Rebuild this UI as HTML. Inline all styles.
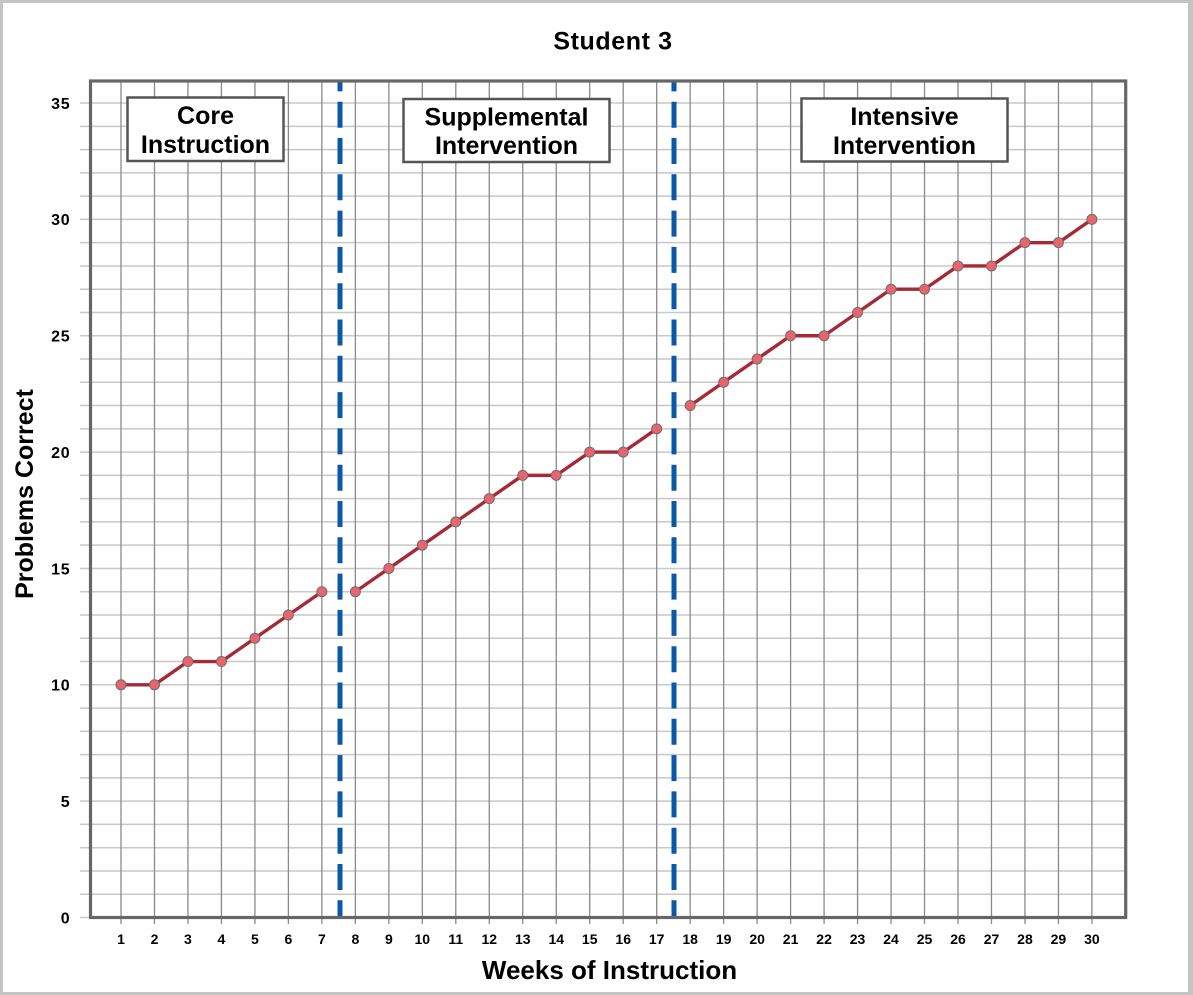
<!DOCTYPE html>
<html>
<head>
<meta charset="utf-8">
<style>
  html,body{margin:0;padding:0;background:#fff;}
  svg{display:block;}
  text{font-family:"Liberation Sans",Arial,sans-serif;font-weight:bold;fill:#000;}
</style>
</head>
<body>
<svg width="1193" height="995" viewBox="0 0 1193 995" xmlns="http://www.w3.org/2000/svg">
  <rect x="0" y="0" width="1193" height="995" fill="#c4c4c4"/>
  <rect x="3" y="3" width="1185" height="989" fill="#ffffff"/>

  <!-- horizontal gridlines (with left ticks) -->
  <g stroke="#c8c8c8" stroke-width="1.5">
    <line x1="80" x2="1125" y1="894.23" y2="894.23"/>
    <line x1="80" x2="1125" y1="870.96" y2="870.96"/>
    <line x1="80" x2="1125" y1="847.69" y2="847.69"/>
    <line x1="80" x2="1125" y1="824.42" y2="824.42"/>
    <line x1="80" x2="1125" y1="801.15" y2="801.15"/>
    <line x1="80" x2="1125" y1="777.88" y2="777.88"/>
    <line x1="80" x2="1125" y1="754.61" y2="754.61"/>
    <line x1="80" x2="1125" y1="731.34" y2="731.34"/>
    <line x1="80" x2="1125" y1="708.07" y2="708.07"/>
    <line x1="80" x2="1125" y1="684.8" y2="684.8"/>
    <line x1="80" x2="1125" y1="661.53" y2="661.53"/>
    <line x1="80" x2="1125" y1="638.26" y2="638.26"/>
    <line x1="80" x2="1125" y1="614.99" y2="614.99"/>
    <line x1="80" x2="1125" y1="591.72" y2="591.72"/>
    <line x1="80" x2="1125" y1="568.45" y2="568.45"/>
    <line x1="80" x2="1125" y1="545.18" y2="545.18"/>
    <line x1="80" x2="1125" y1="521.91" y2="521.91"/>
    <line x1="80" x2="1125" y1="498.64" y2="498.64"/>
    <line x1="80" x2="1125" y1="475.37" y2="475.37"/>
    <line x1="80" x2="1125" y1="452.1" y2="452.1"/>
    <line x1="80" x2="1125" y1="428.83" y2="428.83"/>
    <line x1="80" x2="1125" y1="405.56" y2="405.56"/>
    <line x1="80" x2="1125" y1="382.29" y2="382.29"/>
    <line x1="80" x2="1125" y1="359.02" y2="359.02"/>
    <line x1="80" x2="1125" y1="335.75" y2="335.75"/>
    <line x1="80" x2="1125" y1="312.48" y2="312.48"/>
    <line x1="80" x2="1125" y1="289.21" y2="289.21"/>
    <line x1="80" x2="1125" y1="265.94" y2="265.94"/>
    <line x1="80" x2="1125" y1="242.67" y2="242.67"/>
    <line x1="80" x2="1125" y1="219.4" y2="219.4"/>
    <line x1="80" x2="1125" y1="196.13" y2="196.13"/>
    <line x1="80" x2="1125" y1="172.86" y2="172.86"/>
    <line x1="80" x2="1125" y1="149.59" y2="149.59"/>
    <line x1="80" x2="1125" y1="126.32" y2="126.32"/>
    <line x1="80" x2="1125" y1="103.05" y2="103.05"/>
    <line x1="80" x2="90" y1="917.5" y2="917.5"/>
  </g>

  <!-- vertical gridlines (with bottom ticks) -->
  <g stroke="#8a8a8a" stroke-width="1.3">
    <line y1="81" y2="924" x1="121" x2="121"/>
    <line y1="81" y2="924" x1="154.48" x2="154.48"/>
    <line y1="81" y2="924" x1="187.96" x2="187.96"/>
    <line y1="81" y2="924" x1="221.44" x2="221.44"/>
    <line y1="81" y2="924" x1="254.92" x2="254.92"/>
    <line y1="81" y2="924" x1="288.4" x2="288.4"/>
    <line y1="81" y2="924" x1="321.88" x2="321.88"/>
    <line y1="81" y2="924" x1="355.36" x2="355.36"/>
    <line y1="81" y2="924" x1="388.84" x2="388.84"/>
    <line y1="81" y2="924" x1="422.32" x2="422.32"/>
    <line y1="81" y2="924" x1="455.8" x2="455.8"/>
    <line y1="81" y2="924" x1="489.28" x2="489.28"/>
    <line y1="81" y2="924" x1="522.76" x2="522.76"/>
    <line y1="81" y2="924" x1="556.24" x2="556.24"/>
    <line y1="81" y2="924" x1="589.72" x2="589.72"/>
    <line y1="81" y2="924" x1="623.2" x2="623.2"/>
    <line y1="81" y2="924" x1="656.68" x2="656.68"/>
    <line y1="81" y2="924" x1="690.16" x2="690.16"/>
    <line y1="81" y2="924" x1="723.64" x2="723.64"/>
    <line y1="81" y2="924" x1="757.12" x2="757.12"/>
    <line y1="81" y2="924" x1="790.6" x2="790.6"/>
    <line y1="81" y2="924" x1="824.08" x2="824.08"/>
    <line y1="81" y2="924" x1="857.56" x2="857.56"/>
    <line y1="81" y2="924" x1="891.04" x2="891.04"/>
    <line y1="81" y2="924" x1="924.52" x2="924.52"/>
    <line y1="81" y2="924" x1="958" x2="958"/>
    <line y1="81" y2="924" x1="991.48" x2="991.48"/>
    <line y1="81" y2="924" x1="1024.96" x2="1024.96"/>
    <line y1="81" y2="924" x1="1058.44" x2="1058.44"/>
    <line y1="81" y2="924" x1="1091.92" x2="1091.92"/>
  </g>

  <!-- phase lines -->
  <g stroke="#0b57a8" stroke-width="5" stroke-dasharray="26 10.3" stroke-dashoffset="15.6">
    <line x1="340" x2="340" y1="81" y2="917"/>
    <line x1="674" x2="674" y1="81" y2="917"/>
  </g>

  <!-- axes frame -->
  <rect x="90.5" y="81" width="1035.2" height="836.5" fill="none" stroke="#666666" stroke-width="3.2"/>

  <!-- label boxes -->
  <g fill="#ffffff" stroke="#555555" stroke-width="2.5">
    <rect x="127.5" y="97.5" width="156" height="63.5"/>
    <rect x="403.5" y="99" width="206" height="63"/>
    <rect x="801.5" y="98.5" width="206" height="63"/>
  </g>
  <g font-size="25" text-anchor="middle">
    <text x="205.5" y="124">Core</text>
    <text x="205.5" y="153">Instruction</text>
    <text x="506.5" y="125.5">Supplemental</text>
    <text x="506.5" y="154">Intervention</text>
    <text x="904.5" y="125">Intensive</text>
    <text x="904.5" y="154">Intervention</text>
  </g>

  <!-- data lines -->
  <g fill="none" stroke="#a52a35" stroke-width="3.4" stroke-linejoin="round">
    <polyline points="121,684.8 154.48,684.8 187.96,661.53 221.44,661.53 254.92,638.26 288.4,614.99 321.88,591.72"/>
    <polyline points="355.36,591.72 388.84,568.45 422.32,545.18 455.8,521.91 489.28,498.64 522.76,475.37 556.24,475.37 589.72,452.1 623.2,452.1 656.68,428.83"/>
    <polyline points="690.16,405.56 723.64,382.29 757.12,359.02 790.6,335.75 824.08,335.75 857.56,312.48 891.04,289.21 924.52,289.21 958,265.94 991.48,265.94 1024.96,242.67 1058.44,242.67 1091.92,219.4"/>
  </g>
  <g fill="#ea646d" stroke="#6e6e6e" stroke-width="1">
    <circle cx="121" cy="684.8" r="5"/>
    <circle cx="154.48" cy="684.8" r="5"/>
    <circle cx="187.96" cy="661.53" r="5"/>
    <circle cx="221.44" cy="661.53" r="5"/>
    <circle cx="254.92" cy="638.26" r="5"/>
    <circle cx="288.4" cy="614.99" r="5"/>
    <circle cx="321.88" cy="591.72" r="5"/>
    <circle cx="355.36" cy="591.72" r="5"/>
    <circle cx="388.84" cy="568.45" r="5"/>
    <circle cx="422.32" cy="545.18" r="5"/>
    <circle cx="455.8" cy="521.91" r="5"/>
    <circle cx="489.28" cy="498.64" r="5"/>
    <circle cx="522.76" cy="475.37" r="5"/>
    <circle cx="556.24" cy="475.37" r="5"/>
    <circle cx="589.72" cy="452.1" r="5"/>
    <circle cx="623.2" cy="452.1" r="5"/>
    <circle cx="656.68" cy="428.83" r="5"/>
    <circle cx="690.16" cy="405.56" r="5"/>
    <circle cx="723.64" cy="382.29" r="5"/>
    <circle cx="757.12" cy="359.02" r="5"/>
    <circle cx="790.6" cy="335.75" r="5"/>
    <circle cx="824.08" cy="335.75" r="5"/>
    <circle cx="857.56" cy="312.48" r="5"/>
    <circle cx="891.04" cy="289.21" r="5"/>
    <circle cx="924.52" cy="289.21" r="5"/>
    <circle cx="958" cy="265.94" r="5"/>
    <circle cx="991.48" cy="265.94" r="5"/>
    <circle cx="1024.96" cy="242.67" r="5"/>
    <circle cx="1058.44" cy="242.67" r="5"/>
    <circle cx="1091.92" cy="219.4" r="5"/>
  </g>

  <!-- y tick labels -->
  <g font-size="16" text-anchor="end" letter-spacing="0.8">
    <text x="70.5" y="923.5">0</text>
    <text x="70.5" y="807">5</text>
    <text x="70.5" y="690.6">10</text>
    <text x="70.5" y="574.3">15</text>
    <text x="70.5" y="457.9">20</text>
    <text x="70.5" y="341.6">25</text>
    <text x="70.5" y="225.2">30</text>
    <text x="70.5" y="108.9">35</text>
  </g>

  <!-- x tick labels -->
  <g font-size="14" text-anchor="middle">
    <text x="121" y="944">1</text>
    <text x="154.48" y="944">2</text>
    <text x="187.96" y="944">3</text>
    <text x="221.44" y="944">4</text>
    <text x="254.92" y="944">5</text>
    <text x="288.4" y="944">6</text>
    <text x="321.88" y="944">7</text>
    <text x="355.36" y="944">8</text>
    <text x="388.84" y="944">9</text>
    <text x="422.32" y="944">10</text>
    <text x="455.8" y="944">11</text>
    <text x="489.28" y="944">12</text>
    <text x="522.76" y="944">13</text>
    <text x="556.24" y="944">14</text>
    <text x="589.72" y="944">15</text>
    <text x="623.2" y="944">16</text>
    <text x="656.68" y="944">17</text>
    <text x="690.16" y="944">18</text>
    <text x="723.64" y="944">19</text>
    <text x="757.12" y="944">20</text>
    <text x="790.6" y="944">21</text>
    <text x="824.08" y="944">22</text>
    <text x="857.56" y="944">23</text>
    <text x="891.04" y="944">24</text>
    <text x="924.52" y="944">25</text>
    <text x="958" y="944">26</text>
    <text x="991.48" y="944">27</text>
    <text x="1024.96" y="944">28</text>
    <text x="1058.44" y="944">29</text>
    <text x="1091.92" y="944">30</text>
  </g>

  <!-- titles -->
  <text x="613" y="49.5" font-size="25" text-anchor="middle" letter-spacing="0.6">Student 3</text>
  <text x="609.5" y="979" font-size="26" text-anchor="middle">Weeks of Instruction</text>
  <text transform="translate(33,494) rotate(-90)" font-size="25" text-anchor="middle">Problems Correct</text>
</svg>
</body>
</html>
